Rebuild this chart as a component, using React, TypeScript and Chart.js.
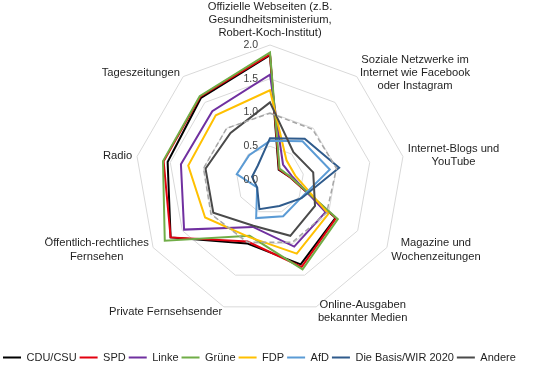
import React, { useEffect, useRef } from 'react';
import { Chart, registerables } from 'chart.js';

Chart.register(...registerables);

const FONT = '"Liberation Sans", Arial, sans-serif';

const categories: string[][] = [
  ['Offizielle Webseiten (z.B.', 'Gesundheitsministerium,', 'Robert-Koch-Institut)'],
  ['Soziale Netzwerke im', 'Internet wie Facebook', 'oder Instagram'],
  ['Internet-Blogs und', 'YouTube'],
  ['Magazine und', 'Wochenzeitungen'],
  ['Online-Ausgaben', 'bekannter Medien'],
  ['Private Fernsehsender'],
  ['Öffentlich-rechtliches', 'Fernsehen'],
  ['Radio'],
  ['Tageszeitungen'],
];

const seriesNames = ['CDU/CSU', 'SPD', 'Linke', 'Grüne', 'FDP', 'AfD', 'Die Basis/WIR 2020', 'Andere', 'Gesamt'];
const seriesColors = ['#000000', '#e3000f', '#7030a0', '#70ad47', '#ffc000', '#5b9bd5', '#2f5b8c', '#4a4a4a', '#a6a6a6'];

const cduCsu = [1.85, 0.2, 0.29, 1.12, 1.33, 1.0, 1.7, 1.54, 1.59];
const spd = [1.86, 0.21, 0.29, 1.13, 1.37, 0.97, 1.7, 1.6, 1.61];
const linke = [1.56, 0.3, 0.33, 0.95, 1.05, 0.74, 1.47, 1.34, 1.33];
const gruene = [1.89, 0.22, 0.3, 1.16, 1.41, 0.88, 1.8, 1.61, 1.62];
const fdp = [1.33, 0.38, 0.38, 1.0, 1.16, 0.9, 1.11, 1.23, 1.25];
const afd = [0.58, 0.75, 0.9, 0.53, 0.57, 0.6, 0.22, 0.5, 0.48];
const basis = [0.62, 0.8, 1.04, 0.54, 0.41, 0.46, 0.22, 0.27, 0.28];
const andere = [1.15, 0.54, 0.65, 0.77, 0.88, 0.72, 0.97, 0.97, 0.91];
const gesamt = [0.99, 0.98, 1.0, 0.97, 0.98, 0.98, 1.01, 1.0, 1.0];

const seriesValues = [cduCsu, spd, linke, gruene, fdp, afd, basis, andere, gesamt];

const scaleMin = 0;
const scaleMax = 2;
const scaleStep = 0.5;

const tickLabelPlugin = {
  id: 'tickLabelsLeft',
  afterDatasetsDraw(chart: any) {
    const s = chart.scales.r;
    const ctx = chart.ctx;
    ctx.save();
    ctx.font = `10.5px ${FONT}`;
    ctx.fillStyle = '#404040';
    ctx.textAlign = 'right';
    ctx.textBaseline = 'middle';
    s.ticks.forEach((t: any) => {
      const d = s.getDistanceFromCenterForValue(t.value);
      ctx.fillText(Number(t.value).toFixed(1), s.xCenter - 12, s.yCenter - d);
    });
    ctx.restore();
  },
};

const pointLabelPlugin = {
  id: 'pointLabelsExcel',
  afterDraw(chart: any) {
    const s = chart.scales.r;
    const ctx = chart.ctx;
    const lh = 13.3;
    const labels = chart.data.labels as (string | string[])[];
    ctx.save();
    ctx.font = `11.2px ${FONT}`;
    ctx.fillStyle = '#1f1f1f';
    ctx.textBaseline = 'middle';
    ctx.textAlign = 'center';
    labels.forEach((lab, i) => {
      const lines = Array.isArray(lab) ? lab : [lab];
      const pos = s.getPointPosition(i, s.drawingArea + 5);
      const angle = Math.round((s.getIndexAngle(i) * 180) / Math.PI) % 360;
      const w = Math.max(...lines.map((l) => ctx.measureText(l).width));
      const h = lines.length * lh;
      let cx: number;
      let top: number;
      if (angle === 0) {
        cx = pos.x;
        top = pos.y - h;
      } else if (angle === 180) {
        cx = pos.x;
        top = pos.y;
      } else if (angle < 180) {
        cx = pos.x + w / 2;
        top = pos.y - h / 2;
      } else {
        cx = pos.x - w / 2;
        top = pos.y - h / 2;
      }
      lines.forEach((l, j) => ctx.fillText(l, cx, top + lh * (j + 0.5)));
    });
    ctx.restore();
  },
};

export default function App() {
  const canvasRef = useRef<HTMLCanvasElement | null>(null);

  useEffect(() => {
    document.body.style.margin = '0';
    const canvas = canvasRef.current;
    if (!canvas) return;

    const datasets = seriesNames.map((name, i) => {
      const dashed = i === 8;
      return {
        label: name,
        data: seriesValues[i],
        borderColor: seriesColors[i],
        backgroundColor: seriesColors[i],
        borderWidth: dashed ? 1.5 : 2,
        borderDash: dashed ? [5, 3] : [],
        fill: false,
        pointRadius: 0,
        pointHoverRadius: 0,
        tension: 0,
        order: -i,
      };
    });

    const chart = new Chart(canvas, {
      type: 'radar',
      data: { labels: categories, datasets },
      options: {
        animation: false,
        responsive: true,
        maintainAspectRatio: false,
        layout: { padding: { top: 45, bottom: -4, left: 0, right: 0 } },
        scales: {
          r: {
            min: scaleMin,
            max: scaleMax,
            ticks: { display: false, stepSize: scaleStep },
            pointLabels: { display: false },
            angleLines: { display: false },
            grid: { color: '#d9d9d9', lineWidth: 1 },
          },
        },
        plugins: {
          tooltip: { enabled: false },
          legend: {
            position: 'bottom',
            align: 'start',
            title: { display: true, text: '', padding: { top: 22.5, bottom: 0 }, font: { size: 10, lineHeight: 1 } },
            labels: {
              boxWidth: 18,
              boxHeight: 2,
              padding: 3,
              color: '#1f1f1f',
              font: { size: 11, family: FONT },
              filter: (item: any) => item.datasetIndex < 8,
              sort: (a: any, b: any) => a.datasetIndex - b.datasetIndex,
              generateLabels: (c: any) =>
                (Chart.defaults.plugins.legend.labels.generateLabels as any)(c).map((it: any) => ({
                  ...it,
                  fillStyle: it.strokeStyle,
                  lineWidth: 0,
                  lineDash: [],
                })),
            },
          },
        },
      } as any,
      plugins: [tickLabelPlugin, pointLabelPlugin],
    });

    return () => chart.destroy();
  }, []);

  return (
    <div style={{ position: 'relative', width: 540, height: 369, background: '#ffffff' }}>
      <canvas ref={canvasRef} />
    </div>
  );
}
